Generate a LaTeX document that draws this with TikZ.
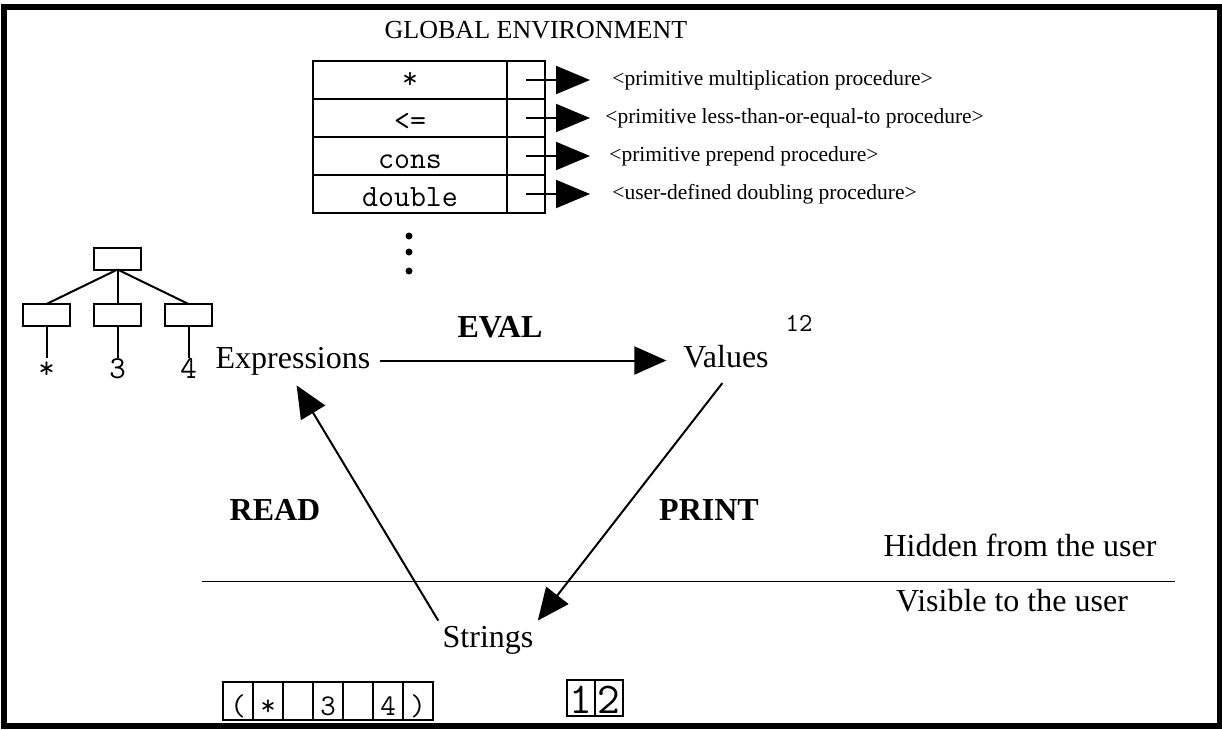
\documentclass[tikz,border=0pt]{standalone}
\usepackage{fontspec}
\setmainfont{Liberation Serif}
\usetikzlibrary{arrows.meta,positioning}

\tikzset{
  word/.style={font=\fontsize{16}{19}\selectfont, inner sep=2pt, text height=11pt, text depth=3.5pt},
  stage/.style={font=\bfseries\fontsize{16}{19}\selectfont},
  namecell/.style={draw, line width=1pt, outer sep=0pt, minimum width=97pt, minimum height=19pt, inner sep=0pt, text height=12pt, text depth=0pt, font=\ttfamily\fontsize{15.5}{17}\selectfont},
  ptrcell/.style={draw, line width=1pt, outer sep=0pt, minimum width=19pt, minimum height=19pt, inner sep=0pt},
  proc/.style={font=\fontsize{10.75}{12}\selectfont, inner sep=0pt},
  treebox/.style={draw, line width=1pt, outer sep=0pt, minimum width=23.5pt, minimum height=11pt, inner sep=0pt},
  leaf/.style={font=\ttfamily\fontsize{16}{18}\selectfont, inner sep=0pt, anchor=north, text height=10pt, text depth=0pt},
  charbox/.style={draw, line width=1pt, outer sep=0pt, minimum width=15pt, minimum height=19pt, inner sep=0pt, text height=15pt, text depth=1pt, font=\ttfamily\fontsize{15}{17}\selectfont},
  digitbox/.style={draw, line width=1pt, outer sep=0pt, minimum width=14pt, minimum height=18pt, inner sep=0pt, text height=16pt, text depth=1pt, font=\ttfamily\fontsize{22}{24}\selectfont},
  flow/.style={line width=1pt, -{Triangle[length=16pt,width=14pt]}},
  ptr/.style={line width=1pt, -{Triangle[length=17pt,width=14pt]}}
}

\begin{document}
\begin{tikzpicture}[x=0.5pt,y=-0.5pt]
\useasboundingbox (0,0) rectangle (1222,729);
\draw[line width=3pt] (4,7) rectangle (1219.5,726);

% global environment table
\node[font=\fontsize{13}{15}\selectfont] (genv) at (536,30) {GLOBAL ENVIRONMENT};
\node[namecell] (n1) at (410,80) {\raisebox{2pt}{*}};
\node[namecell, below=0pt of n1] (n2) {<=};
\node[namecell, below=0pt of n2] (n3) {cons};
\node[namecell, below=0pt of n3] (n4) {double};
\node[ptrcell, right=0pt of n1] (p1) {};
\node[ptrcell, right=0pt of n2] (p2) {};
\node[ptrcell, right=0pt of n3] (p3) {};
\node[ptrcell, right=0pt of n4] (p4) {};
\coordinate[right=22.5pt of p1] (t1);
\coordinate[right=22.5pt of p2] (t2);
\coordinate[right=22.5pt of p3] (t3);
\coordinate[right=22.5pt of p4] (t4);
\draw[ptr] (p1.center) -- (t1);
\draw[ptr] (p2.center) -- (t2);
\draw[ptr] (p3.center) -- (t3);
\draw[ptr] (p4.center) -- (t4);
\node[proc, right=11pt of t1] (pr1) {<primitive multiplication procedure>};
\node[proc, right=7.5pt of t2] (pr2) {<primitive less-than-or-equal-to procedure>};
\node[proc, right=9.5pt of t3] (pr3) {<primitive prepend procedure>};
\node[proc, right=11pt of t4] (pr4) {<user-defined doubling procedure>};
\fill (409,236) circle[radius=1.75pt] (409,252) circle[radius=1.75pt] (409,271) circle[radius=1.75pt];

% parse tree
\node[treebox] (root) at (117.5,258.5) {};
\node[treebox] (k2) at (117.5,315) {};
\node[treebox, left=12pt of k2] (k1) {};
\node[treebox, right=12pt of k2] (k3) {};
\draw[line width=1pt] (root.south) -- (k1.north);
\draw[line width=1pt] (root.south) -- (k2.north);
\draw[line width=1pt] (root.south) -- (k3.north);
\node[leaf, below=16pt of k1] (l1) {*};
\node[leaf, below=16pt of k2] (l2) {3};
\node[leaf, below=16pt of k3] (l3) {4};
\draw[line width=1pt] (k1.south) -- (l1.north);
\draw[line width=1pt] (k2.south) -- (l2.north);
\draw[line width=1pt] (k3.south) -- (l3.north);

% the loop
\node[word, anchor=base] (expr) at (293,368) {Expressions};
\node[word, anchor=base] (vals) at (726,367) {Values};
\node[word, anchor=base] (strs) at (488,647) {Strings};
\node[font=\ttfamily\fontsize{13}{15}\selectfont] (twelve) at (799,323) {12};
\node[stage] (eval) at (500,327) {EVAL};
\node[stage] (read) at (275,510) {READ};
\node[stage] (print) at (709,510) {PRINT};
\draw[flow, shorten <=2.75pt, shorten >=6.3pt] (expr.east) -- (expr.east -| vals.west);
\draw[flow, shorten <=3pt] (vals.south) -- (strs.north east);
\draw[flow, shorten >=3.5pt] (strs.north west) -- (expr.south);

% user boundary
\draw[line width=0.5pt] (202,581) -- (1175,581);
\node[font=\fontsize{16}{19}\selectfont] (hidden) at (1020,545) {Hidden from the user};
\node[font=\fontsize{16}{19}\selectfont] (visible) at (1012,601) {Visible to the user};

% strings
\node[charbox] (c1) at (238,701) {(};
\node[charbox, right=0pt of c1] (c2) {*};
\node[charbox, right=0pt of c2] (c3) {};
\node[charbox, right=0pt of c3] (c4) {3};
\node[charbox, right=0pt of c4] (c5) {};
\node[charbox, right=0pt of c5] (c6) {4};
\node[charbox, right=0pt of c6] (c7) {)};
\node[digitbox] (d1) at (581,698) {1};
\node[digitbox, right=0pt of d1] (d2) {2};
\end{tikzpicture}
\end{document}
